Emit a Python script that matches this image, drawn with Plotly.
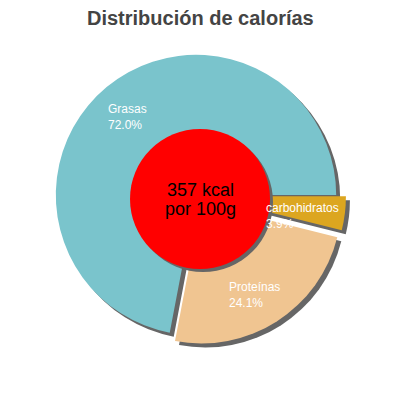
import plotly.graph_objects as go

labels = ["carbohidratos", "Proteínas", "Grasas"]
values = [3.9, 24.1, 72.0]
colors = ["#dca620", "#f0c591", "#7ac4cc"]
pulls = [0.07, 0.07, 0.0]
title_text = "Distribución de calorías"
center_lines = ["357 kcal", "por 100g"]

W = H = 400
OFF = 8  # page body margin

def px(x):
    return (x - OFF) / W

def py(y):
    return 1 - (y - OFF) / H

def dom(x0, x1, y0, y1):
    return dict(x=[px(x0), px(x1)], y=[py(y1), py(y0)])

fig = go.Figure()

# shadow of main pie
fig.add_trace(go.Pie(
    labels=labels, values=values, sort=False, direction="clockwise", rotation=90,
    pull=pulls, marker=dict(colors=["#666666"] * 3, line=dict(width=0)),
    textinfo="none", hoverinfo="skip", showlegend=False,
    domain=dom(50, 350, 49, 349),
))
# main pie
fig.add_trace(go.Pie(
    labels=labels, values=values, sort=False, direction="clockwise", rotation=90,
    pull=pulls, marker=dict(colors=colors, line=dict(width=0)),
    textinfo="none", showlegend=False,
    domain=dom(46, 346, 45, 345),
))
# center disk shadow and disk
fig.add_trace(go.Pie(
    values=[1], marker=dict(colors=["#666666"], line=dict(width=0)),
    textinfo="none", hoverinfo="skip", showlegend=False,
    domain=dom(133, 273, 132, 272),
))
fig.add_trace(go.Pie(
    values=[1], marker=dict(colors=["#ff0000"], line=dict(width=0)),
    textinfo="none", hoverinfo="skip", showlegend=False,
    domain=dom(130, 270, 129, 269),
))

total = sum(values)
label_pos = {"Grasas": (107, 101), "carbohidratos": (265, 200), "Proteínas": (228, 279)}
anns = []
for lab, val in zip(labels, values):
    x0, y0 = label_pos[lab]
    pct = f"{100 * val / total:.1f}%"
    anns.append(dict(
        x=px(x0), y=py(y0), xref="paper", yref="paper",
        xanchor="left", yanchor="top", align="left", showarrow=False,
        text=lab + "<br>" + pct, borderpad=0,
        font=dict(family="Liberation Sans, Arial", size=12, color="white"),
    ))

for i, t in enumerate(center_lines):
    anns.append(dict(
        x=px(200), y=py(189.5 + 19.5 * i), xref="paper", yref="paper",
        xanchor="center", yanchor="middle", showarrow=False, text=t,
        font=dict(family="Liberation Sans, Arial", size=18, color="black"),
    ))

anns.append(dict(
    x=px(200), y=py(18), xref="paper", yref="paper", xanchor="center", yanchor="middle",
    showarrow=False, text="<b>" + title_text + "</b>",
    font=dict(family="Liberation Sans, Arial", size=20, color="#444444"),
))

fig.update_layout(
    width=W, height=H, margin=dict(l=0, r=0, t=0, b=0),
    paper_bgcolor="white", plot_bgcolor="white",
    annotations=anns, showlegend=False,
)

fig.write_html("out.html")
